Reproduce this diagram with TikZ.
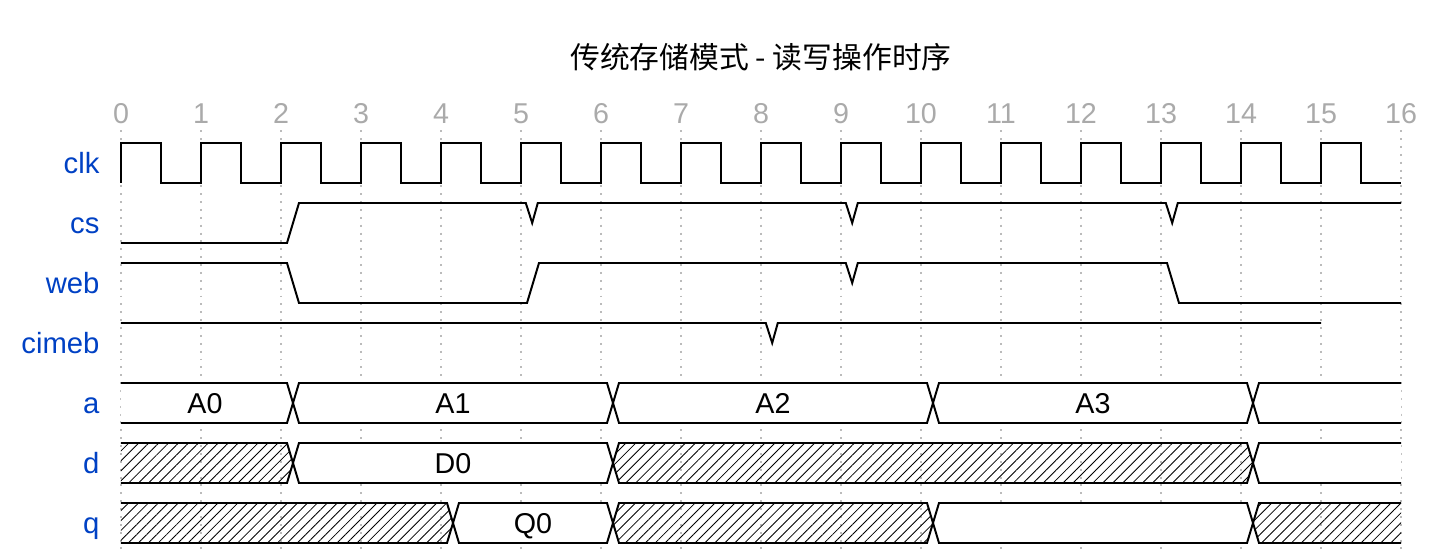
\documentclass[tikz,border=0pt]{standalone}
\usepackage{fontspec}
\setmainfont{Liberation Sans}
\newfontfamily\cjkfont{Noto Sans CJK SC}
\usepackage{tikz}
\usetikzlibrary{patterns.meta}
\usepackage{xcolor}
\definecolor{sigblue}{HTML}{0041C4}
\definecolor{tickgray}{HTML}{AAAAAA}
\definecolor{gridgray}{HTML}{BBBBBB}

% bus segment between two transitions, #3 = middle height of the row
\newcommand{\busmid}[3]{(#1+0.15,#3) -- (#1+0.225,#3+0.25) -- (#2+0.075,#3+0.25) -- (#2+0.15,#3) -- (#2+0.075,#3-0.25) -- (#1+0.225,#3-0.25) -- cycle}
\newcommand{\busfirst}[2]{(0,#2+0.25) -- (#1+0.075,#2+0.25) -- (#1+0.15,#2) -- (#1+0.075,#2-0.25) -- (0,#2-0.25)}
\newcommand{\buslast}[2]{(16,#2+0.25) -- (#1+0.225,#2+0.25) -- (#1+0.15,#2) -- (#1+0.225,#2-0.25) -- (16,#2-0.25)}

\begin{document}
\begin{tikzpicture}[x=1cm, y=1cm,
    wave/.style={line width=0.7pt, line join=miter},
    blank/.style={wave, fill=white},
    hatch/.style={wave, pattern={Lines[angle=45, distance=2.5pt, line width=0.3pt]}},
    gridline/.style={gridgray, line width=0.7pt, dash pattern=on 0.7pt off 2.1pt},
    txt/.style={text height=0.716em, text depth=0pt},
    siglabel/.style={txt, anchor=east, inner xsep=0pt, text=sigblue, font=\fontsize{10.4}{12}\selectfont},
    ticklabel/.style={txt, text=tickgray, font=\fontsize{10.2}{12}\selectfont},
    buslabel/.style={txt, font=\fontsize{10.2}{12}\selectfont}]

    \useasboundingbox (-1.5125,1.7875) rectangle (16.4875,-5.1125);

    % title and time axis
    \node (title) at (8,1.075) {\fontsize{10.6}{13}\selectfont\cjkfont 传统存储模式 - 读写操作时序};
    \foreach \t in {0,...,16} {
        \draw[gridline] (\t,0.16) -- (\t,-5.1125);
        \node[ticklabel] (tick\t) at (\t,0.375) {\t};
    }

    % signal names
    \node[siglabel] (lclk) at (-0.2625,-0.25) {clk};
    \node[siglabel] (lcs) at (-0.2625,-1.0) {cs};
    \node[siglabel] (lweb) at (-0.2625,-1.75) {web};
    \node[siglabel] (lcimeb) at (-0.2625,-2.5) {cimeb};
    \node[siglabel] (la) at (-0.2625,-3.25) {a};
    \node[siglabel] (ld) at (-0.2625,-4.0) {d};
    \node[siglabel] (lq) at (-0.2625,-4.75) {q};

    % clk
    \draw[wave] (0,-0.5) \foreach \i in {0,...,15} { -- (\i,0) -- (\i+0.5,0) -- (\i+0.5,-0.5) -- (\i+1,-0.5) };

    % cs, web, cimeb
    \draw[wave] (0,-1.25) -- (2.075,-1.25) -- (2.225,-0.75) -- (5.06,-0.75) -- (5.14,-1) -- (5.21,-0.75)
        -- (9.06,-0.75) -- (9.14,-1) -- (9.21,-0.75) -- (13.06,-0.75) -- (13.14,-1) -- (13.21,-0.75) -- (16,-0.75);
    \draw[wave] (0,-1.5) -- (2.075,-1.5) -- (2.225,-2) -- (5.075,-2) -- (5.225,-1.5)
        -- (9.06,-1.5) -- (9.14,-1.75) -- (9.21,-1.5) -- (13.075,-1.5) -- (13.225,-2) -- (16,-2);
    \draw[wave] (0,-2.25) -- (8.06,-2.25) -- (8.14,-2.5) -- (8.21,-2.25) -- (15,-2.25);

    % a
    \draw[blank] \busfirst{2}{-3.25};
    \draw[blank] \busmid{2}{6}{-3.25};
    \draw[blank] \busmid{6}{10}{-3.25};
    \draw[blank] \busmid{10}{14}{-3.25};
    \draw[blank] \buslast{14}{-3.25};
    \node[buslabel] (vA0) at (1.05,-3.25) {A0};
    \node[buslabel] (vA1) at (4.15,-3.25) {A1};
    \node[buslabel] (vA2) at (8.15,-3.25) {A2};
    \node[buslabel] (vA3) at (12.15,-3.25) {A3};

    % d
    \draw[hatch] \busfirst{2}{-4};
    \draw[blank] \busmid{2}{6}{-4};
    \draw[hatch] \busmid{6}{14}{-4};
    \draw[blank] \buslast{14}{-4};
    \node[buslabel] (vD0) at (4.15,-4) {D0};

    % q
    \draw[hatch] \busfirst{4}{-4.75};
    \draw[blank] \busmid{4}{6}{-4.75};
    \draw[hatch] \busmid{6}{10}{-4.75};
    \draw[blank] \busmid{10}{14}{-4.75};
    \draw[hatch] \buslast{14}{-4.75};
    \node[buslabel] (vQ0) at (5.15,-4.75) {Q0};
\end{tikzpicture}
\end{document}
